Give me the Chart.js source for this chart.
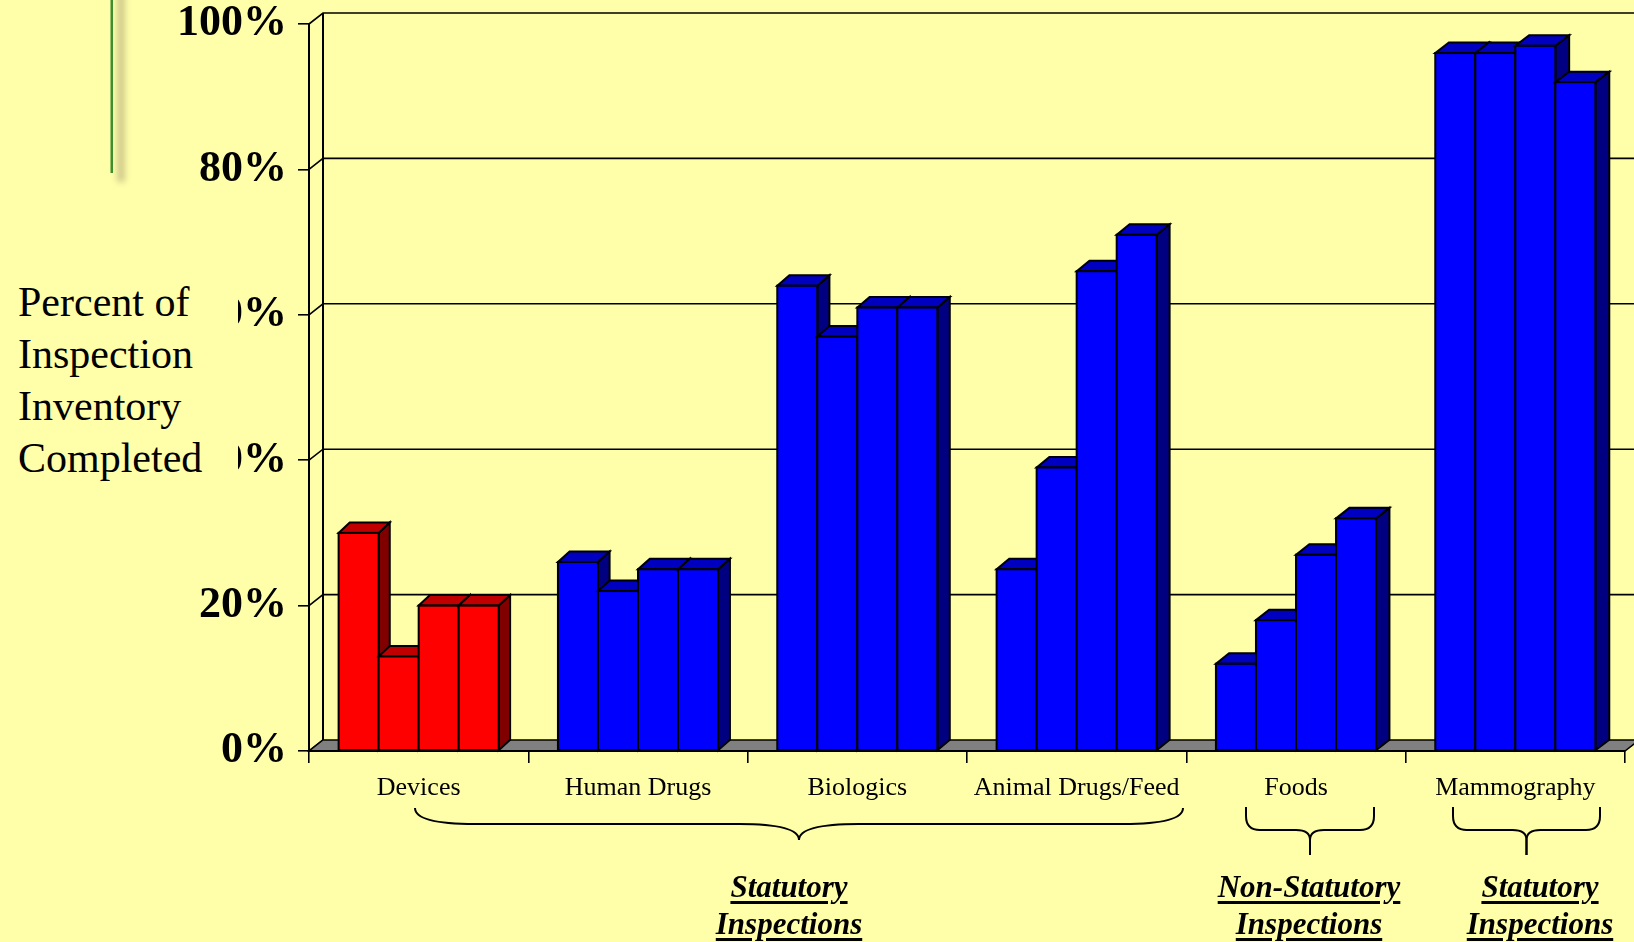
<!DOCTYPE html>
<html><head><meta charset="utf-8">
<script src="https://cdn.jsdelivr.net/npm/chart.js@4.4.1/dist/chart.umd.min.js"></script>
<style>
html,body{margin:0;padding:0;background:#FFFFAA;}
#wrap{position:relative;width:1634px;height:942px;overflow:hidden;background:#FFFFAA;}
#c{position:absolute;left:0;top:0;}
.ytitle{position:absolute;left:0;top:262px;width:238px;height:228px;background:#FFFFAA;font-family:'Liberation Serif','Times New Roman',serif;font-size:42px;line-height:52px;color:#000;padding:14px 0 0 18px;box-sizing:border-box;white-space:nowrap;}
.grp{position:absolute;top:868px;font-family:'Liberation Serif','Times New Roman',serif;font-weight:bold;font-style:italic;font-size:31px;line-height:37px;text-align:center;transform:translateX(-50%);white-space:nowrap;color:#000;}
.grp span{text-decoration:underline;text-decoration-thickness:2.5px;text-underline-offset:4px;}
</style></head>
<body>
<div id="wrap">
<canvas id="c" width="1634" height="942"></canvas>
<div class="ytitle">Percent of<br>Inspection<br>Inventory<br>Completed</div>
<div class="grp" style="left:789px"><span>Statutory</span><br><span>Inspections</span></div>
<div class="grp" style="left:1309px"><span>Non-Statutory</span><br><span>Inspections</span></div>
<div class="grp" style="left:1540px"><span>Statutory</span><br><span>Inspections</span></div>
</div>
<script>
// ---- data ----
const categories = ['Devices','Human Drugs','Biologics','Animal Drugs/Feed','Foods','Mammography'];
const series1 = [30, 26, 64, 25, 12, 96];
const series2 = [13, 22, 57, 39, 18, 96];
const series3 = [20, 25, 61, 66, 27, 97];
const series4 = [20, 25, 61, 71, 32, 92];
const yTicks = [0, 20, 40, 60, 80, 100];
const highlighted = ['Devices'];

// ---- styles ----
const faces = {
  '#FF0000': {top:'#C00000', side:'#800000'},
  '#0000FF': {top:'#0000C0', side:'#000080'}
};
const catColors = categories.map(c => highlighted.includes(c) ? '#FF0000' : '#0000FF');

const threeD = {
  id:'threeD',
  beforeDatasetsDraw(chart){
    const ctx = chart.ctx, ys = chart.scales.y, a = chart.chartArea;
    const WX = 14, WY = 11;
    ctx.save();
    ctx.strokeStyle = '#000';
    ctx.lineJoin = 'miter';
    // walls: gridlines on back wall, diagonals on left wall
    ctx.lineWidth = 1.6;
    yTicks.forEach(v => {
      const py = ys.getPixelForValue(v);
      ctx.beginPath();
      ctx.moveTo(a.left, py);
      ctx.lineTo(a.left + WX, py - WY);
      if (v > 0) ctx.lineTo(chart.width + 20, py - WY);
      ctx.stroke();
    });
    ctx.lineWidth = 2;
    ctx.beginPath();
    ctx.moveTo(a.left + WX, ys.getPixelForValue(yTicks[yTicks.length-1]) - WY);
    ctx.lineTo(a.left + WX, a.bottom - WY);
    ctx.stroke();
    // floor
    ctx.fillStyle = '#808080';
    ctx.lineWidth = 1.5;
    ctx.beginPath();
    ctx.moveTo(a.left, a.bottom);
    ctx.lineTo(a.left + WX, a.bottom - WY);
    ctx.lineTo(a.right + WX, a.bottom - WY);
    ctx.lineTo(a.right, a.bottom);
    ctx.closePath();
    ctx.fill();
    ctx.stroke();
    // 3D bars, painted left to right
    const n = chart.data.datasets.length;
    ctx.lineWidth = 2;
    for (let j = 0; j < categories.length; j++) {
      for (let i = 0; i < n; i++) {
        const el = chart.getDatasetMeta(i).data[j];
        const p = el.getProps(['x','y','base','width'], true);
        const l = p.x - p.width/2, r = p.x + p.width/2, t = p.y, b = p.base;
        const frac = (p.x - a.left) / (a.right - a.left);
        const dx = 11 + 3*frac, dy = 10.5;
        const front = el.options.backgroundColor;
        const f = faces[front];
        // side
        ctx.fillStyle = f.side;
        ctx.beginPath();
        ctx.moveTo(r, b); ctx.lineTo(r+dx, b-dy); ctx.lineTo(r+dx, t-dy); ctx.lineTo(r, t); ctx.closePath();
        ctx.fill(); ctx.stroke();
        // top
        ctx.fillStyle = f.top;
        ctx.beginPath();
        ctx.moveTo(l, t); ctx.lineTo(l+dx, t-dy); ctx.lineTo(r+dx, t-dy); ctx.lineTo(r, t); ctx.closePath();
        ctx.fill(); ctx.stroke();
        // front
        ctx.fillStyle = front;
        ctx.fillRect(l, t, r-l, b-t);
        ctx.strokeRect(l, t, r-l, b-t);
      }
    }
    // front edge of floor
    ctx.lineWidth = 2;
    ctx.beginPath(); ctx.moveTo(a.left, a.bottom); ctx.lineTo(a.right, a.bottom); ctx.stroke();
    ctx.restore();
    return false;
  },
  afterDraw(chart){
    const ctx = chart.ctx;
    ctx.save();
    // decorative green rule with soft shadow
    ctx.filter = 'blur(3px)';
    ctx.fillStyle = 'rgba(150,140,100,0.45)';
    ctx.fillRect(117, -10, 8, 192);
    ctx.filter = 'none';
    ctx.fillStyle = '#3E8E2E';
    ctx.fillRect(110.5, 0, 2.5, 173);
    // braces
    ctx.strokeStyle = '#000';
    ctx.lineWidth = 2;
    function brace(x1, x2, yTop, yMid, yTip, rxE, ryE, rxT, ryT){
      const xm = (x1 + x2)/2;
      [[x1, 1], [x2, -1]].forEach(([xs, s]) => {
        ctx.beginPath();
        ctx.moveTo(xs, yTop);
        ctx.lineTo(xs, yMid - ryE);
        ctx.quadraticCurveTo(xs, yMid, xs + s*rxE, yMid);
        ctx.lineTo(xm - s*rxT, yMid);
        ctx.quadraticCurveTo(xm, yMid, xm, yMid + ryT);
        ctx.lineTo(xm, yTip);
        ctx.stroke();
      });
    }
    brace(415, 1183, 808, 824, 840, 60, 16, 60, 16);
    brace(1246, 1374, 807, 830, 855, 14, 14, 14, 10);
    brace(1453, 1600, 807, 830, 855, 14, 14, 14, 10);
    ctx.restore();
  }
};

const serif = "'Liberation Serif','Times New Roman',serif";
new Chart(document.getElementById('c'), {
  type:'bar',
  data:{
    labels: categories,
    datasets: [series1, series2, series3, series4].map((s, k) => ({
      label: 'Series ' + (k+1),
      data: s,
      backgroundColor: catColors,
      borderWidth: 0
    }))
  },
  options:{
    responsive:false,
    animation:false,
    devicePixelRatio:1,
    categoryPercentage:0.73,
    barPercentage:1.0,
    layout:{padding:{left:0, top:24, right:9, bottom:0}},
    plugins:{legend:{display:false}, tooltip:{enabled:false}},
    scales:{
      y:{
        min:0, max:100,
        afterFit(s){ s.width = 309; s.paddingTop = 0; s.paddingBottom = 0; },
        afterBuildTicks(s){ s.ticks = yTicks.map(v => ({value:v})); },
        ticks:{callback:v => v + '%', font:{family:serif, size:44, weight:'bold'}, color:'#000', padding:11},
        grid:{drawOnChartArea:false, drawTicks:true, tickLength:11, color:'#000', lineWidth:1.6},
        border:{display:true, color:'#000', width:2}
      },
      x:{
        afterFit(s){ s.height = 191; s.paddingLeft = 0; s.paddingRight = 0; },
        ticks:{font:{family:serif, size:26}, color:'#000', padding:10, maxRotation:0, autoSkip:false},
        grid:{offset:true, drawOnChartArea:false, drawTicks:true, tickLength:12, color:'#000', lineWidth:1.6},
        border:{display:true, color:'#000', width:2}
      }
    }
  },
  plugins:[threeD]
});
</script>
</body></html>
